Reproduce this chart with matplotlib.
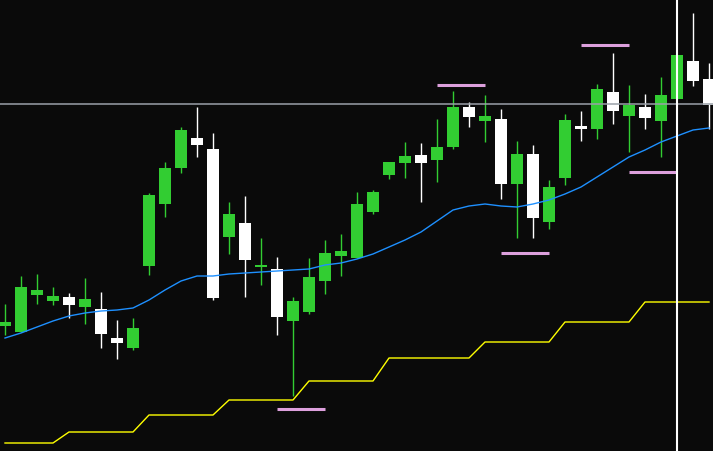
import numpy as np
import matplotlib.pyplot as plt

# price in points (one point per pixel of the original chart)
opens = [125, 119, 156, 150, 154, 144, 142, 113, 103, 185, 247, 283, 313, 302, 214,
         228, 184, 182, 130, 139, 170, 195, 193, 239, 276, 288, 296, 291, 304, 344,
         330, 332, 267, 297, 229, 273, 325, 322, 359, 335, 344, 330, 352, 390, 372]
highs = [147, 175, 177, 164, 158, 173, 159, 131, 133, 258, 289, 324, 344, 318, 249,
         255, 213, 194, 154, 193, 211, 217, 259, 261, 289, 309, 308, 332, 360, 349,
         356, 342, 310, 306, 271, 337, 340, 367, 398, 366, 357, 374, 396, 438, 388]
lows = [116, 119, 147, 146, 133, 127, 103, 92, 101, 176, 234, 278, 294, 151, 197,
        154, 166, 116, 55, 137, 157, 175, 193, 237, 272, 273, 249, 269, 302, 324,
        309, 252, 213, 213, 222, 266, 310, 312, 327, 299, 322, 294, 352, 365, 322]
closes = [129, 164, 161, 155, 146, 152, 117, 108, 123, 256, 283, 321, 306, 153, 237,
          191, 186, 134, 150, 174, 198, 200, 247, 259, 289, 295, 288, 304, 344, 334,
          335, 267, 297, 233, 264, 331, 322, 362, 340, 346, 333, 356, 396, 370, 346]

# moving average
ma = [113, 118, 124, 130, 135, 138, 140, 141, 143, 151, 161, 170, 175, 175, 177,
      178, 179, 180, 181, 182, 186, 188, 192, 197, 204, 211, 219, 230, 241, 245,
      247, 245, 244, 247, 251, 257, 264, 274, 284, 294, 301, 309, 315, 321, 323]

# stepped support line
support = [8, 8, 8, 8, 19, 19, 19, 19, 19, 36, 36, 36, 36, 36, 51,
           51, 51, 51, 51, 70, 70, 70, 70, 70, 93, 93, 93, 93, 93, 93,
           109, 109, 109, 109, 109, 129, 129, 129, 129, 129, 149, 149, 149, 149, 149]

# fractal levels: (start bar, end bar, level)
fractal_start = [17, 27, 31, 36, 39]
fractal_end = [20, 30, 34, 39, 42]
fractal_level = [42, 366, 198, 406, 279]

cross_price = 347
cross_bar = 42

bg = '#0a0a0a'
up_col = '#32cd32'
down_col = '#ffffff'

o = np.array(opens)
c = np.array(closes)
h = np.array(highs)
l = np.array(lows)
x = np.arange(len(o))

fig = plt.figure(figsize=(7.13, 4.52), dpi=100)
fig.patch.set_facecolor(bg)
ax = fig.add_axes([0, 0, 1, 1])
ax.set_facecolor(bg)

cols = [up_col if cc >= oo else down_col for oo, cc in zip(o, c)]
ax.vlines(x, l, h, colors=cols, linewidth=1.0, zorder=2)
body_h = np.maximum(np.abs(c - o), 2)
ax.bar(x, body_h, bottom=np.minimum(o, c), width=0.69, color=cols,
       linewidth=0, zorder=3)

ax.plot(x, support, color='#ffff00', linewidth=1.0, zorder=4)
ax.plot(x, ma, color='#1e90ff', linewidth=1.0, zorder=4)

for s, e, lev in zip(fractal_start, fractal_end, fractal_level):
    ax.hlines(lev, s, e, colors='#dda0dd', linewidth=2.2, zorder=4)

ax.axhline(cross_price, color='#9aa0a8', linewidth=1.1, zorder=5)
ax.axvline(cross_bar, color='#ffffff', linewidth=1.5, zorder=5)

ax.set_xlim(-5 / 16, 708 / 16)
ax.set_ylim(0, 452)
ax.axis('off')

fig.savefig('out.png', dpi=100, facecolor=bg)
